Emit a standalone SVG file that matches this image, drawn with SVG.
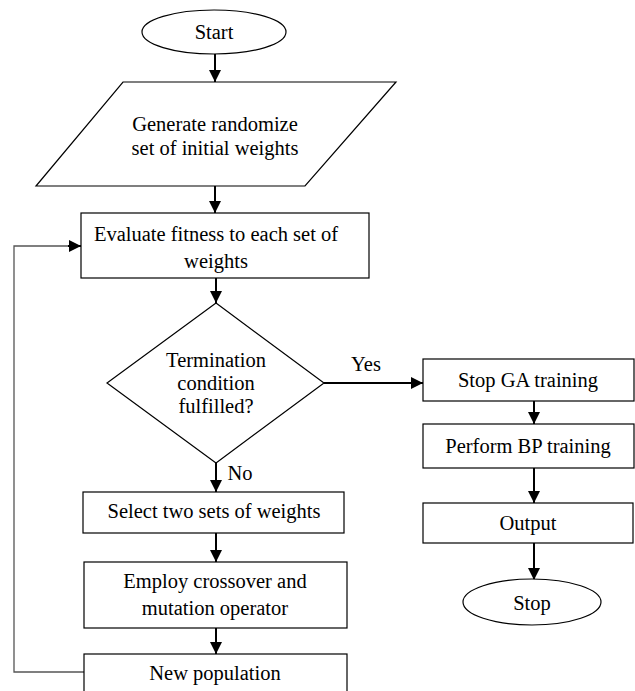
<svg xmlns="http://www.w3.org/2000/svg" width="635" height="691" viewBox="0 0 635 691">
<style>
.s{fill:#fff;stroke:#000;stroke-width:1.2}
.t{font-family:"Liberation Serif","Times New Roman",serif;font-size:20.5px;fill:#000;text-anchor:middle}
.c{fill:none;stroke:#000;stroke-width:2}
.f{fill:none;stroke:#555;stroke-width:1.3}
</style>
<defs>
<marker id="ah" markerWidth="12" markerHeight="12" refX="12" refY="6" orient="auto" markerUnits="userSpaceOnUse">
<path d="M0,0 L12,6 L0,12 Z" fill="#000"/>
</marker>
</defs>
<rect width="635" height="691" fill="#fff"/>
<g id="connectors">
<line class="c" x1="215" y1="54" x2="215" y2="82" marker-end="url(#ah)"/>
<line class="c" x1="215" y1="186" x2="215" y2="213" marker-end="url(#ah)"/>
<line class="c" x1="216" y1="278" x2="216" y2="303" marker-end="url(#ah)"/>
<line class="c" x1="324" y1="383" x2="423" y2="383" marker-end="url(#ah)"/>
<line class="c" x1="216" y1="463" x2="216" y2="492" marker-end="url(#ah)"/>
<line class="c" x1="216" y1="533" x2="216" y2="562" marker-end="url(#ah)"/>
<line class="c" x1="216" y1="628" x2="216" y2="654" marker-end="url(#ah)"/>
<line class="c" x1="534" y1="401" x2="534" y2="424" marker-end="url(#ah)"/>
<line class="c" x1="534" y1="468" x2="534" y2="503" marker-end="url(#ah)"/>
<line class="c" x1="534" y1="543" x2="534" y2="580" marker-end="url(#ah)"/>
<polyline class="f" points="84,672 14,672 14,246 70,246"/>
<line class="c" x1="68" y1="246" x2="81" y2="246" marker-end="url(#ah)"/>
<text class="t" x="366" y="371">Yes</text>
<text class="t" x="240" y="480">No</text>
</g>
<g id="start">
<ellipse class="s" cx="214" cy="32" rx="72" ry="22"/>
<text class="t" x="214" y="39">Start</text>
</g>
<g id="generate">
<polygon class="s" points="123,82 396,82 305,186 36,186"/>
<text class="t" x="215" y="131">Generate randomize</text>
<text class="t" x="215" y="155">set of initial weights</text>
</g>
<g id="evaluate">
<rect class="s" x="81" y="213" width="288" height="65"/>
<text class="t" x="216" y="241">Evaluate fitness to each set of</text>
<text class="t" x="216" y="268">weights</text>
</g>
<g id="termination">
<polygon class="s" points="216,303 324,383 216,463 107,383"/>
<text class="t" x="216" y="367">Termination</text>
<text class="t" x="216" y="390">condition</text>
<text class="t" x="216" y="413">fulfilled?</text>
</g>
<g id="select">
<rect class="s" x="83" y="492" width="261" height="41"/>
<text class="t" x="214" y="518">Select two sets of weights</text>
</g>
<g id="employ">
<rect class="s" x="84" y="562" width="263" height="66"/>
<text class="t" x="215" y="588">Employ crossover and</text>
<text class="t" x="215" y="615">mutation operator</text>
</g>
<g id="newpop">
<rect class="s" x="84" y="654" width="263" height="50"/>
<text class="t" x="215" y="680">New population</text>
</g>
<g id="stopga">
<rect class="s" x="423" y="359" width="211" height="42"/>
<text class="t" x="528" y="387">Stop GA training</text>
</g>
<g id="performbp">
<rect class="s" x="423" y="424" width="211" height="44"/>
<text class="t" x="528" y="453">Perform BP training</text>
</g>
<g id="output">
<rect class="s" x="423" y="503" width="210" height="40"/>
<text class="t" x="528" y="530">Output</text>
</g>
<g id="stop">
<ellipse class="s" cx="532" cy="602" rx="69" ry="23"/>
<text class="t" x="532" y="610">Stop</text>
</g>
</svg>
